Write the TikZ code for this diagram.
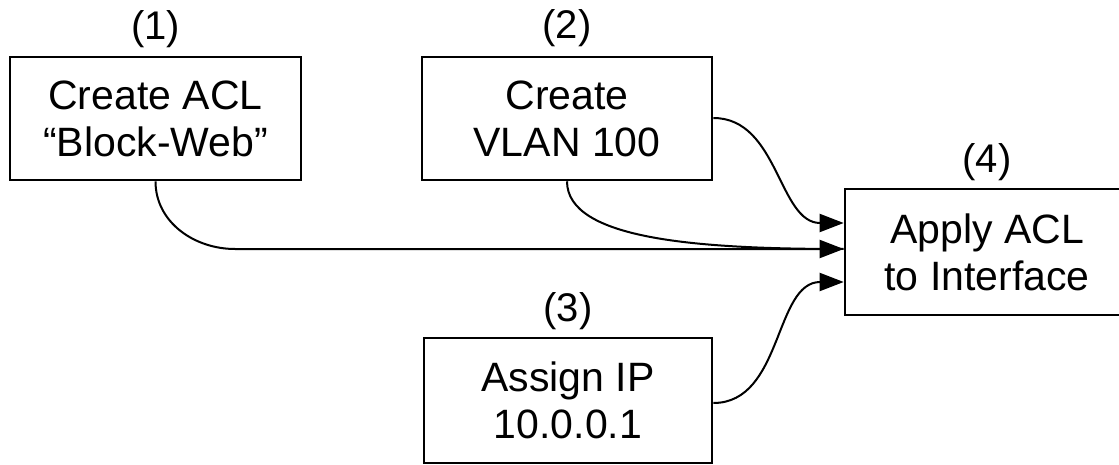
\documentclass[tikz,border=0pt]{standalone}
\usepackage{fontspec}
\setmainfont{Liberation Sans}
\usetikzlibrary{arrows.meta}
\tikzset{
  stepbox/.style={draw=black, line width=2.6pt, fill=white, align=center, inner sep=0pt,
    font=\fontsize{41}{47}\selectfont},
  numlabel/.style={font=\fontsize{40}{44}\selectfont, inner sep=0pt},
  conn/.style={line width=2pt, -{Triangle[length=24pt,width=18pt]}},
  connplain/.style={line width=2pt}
}
\begin{document}
\begin{tikzpicture}[x=1pt,y=-1pt]
\useasboundingbox (0,0) rectangle (1119,465);
\clip (0,0) rectangle (1119,465);
\fill[white] (0,0) rectangle (1119,465);

\node[stepbox, minimum width=291pt, minimum height=123pt] (b1) at (155.5,118.5) {Create ACL\\“Block-Web”};
\node[stepbox, minimum width=290pt, minimum height=123pt] (b2) at (567,118.5) {Create\\VLAN 100};
\node[stepbox, minimum width=288pt, minimum height=125pt] (b3) at (568,400.5) {Assign IP\\10.0.0.1};
\node[stepbox, minimum width=284pt, minimum height=126pt] (b4) at (987,252) {Apply ACL\\to Interface};

\node[numlabel] (l1) at ([yshift=27pt]b1.north) {(1)};
\node[numlabel] (l2) at ([yshift=28pt]b2.north) {(2)};
\node[numlabel] (l3) at ([yshift=26pt]b3.north) {(3)};
\node[numlabel] (l4) at ([yshift=26pt]b4.north) {(4)};

\coordinate (t1) at (b4.west |- 0,223);
\coordinate (t2) at (b4.west |- 0,249);
\coordinate (t3) at (b4.west |- 0,282);
\coordinate (s2r) at (b2.east |- 0,118);
\coordinate (s3r) at (b3.east |- 0,403);
\coordinate (bend1) at (235,249);

% (1) -> (4)
\draw[conn] (b1.south) to[out=-90,in=180] (bend1) -- (t2);
% (2) bottom -> (4)
\draw[connplain] (b2.south) .. controls (567,240) and (700,249) .. (t2);
% (2) right -> (4)
\draw[conn] (s2r) to[out=0,in=180] (t1);
% (3) -> (4)
\draw[conn] (s3r) to[out=0,in=180] (t3);
\end{tikzpicture}
\end{document}
